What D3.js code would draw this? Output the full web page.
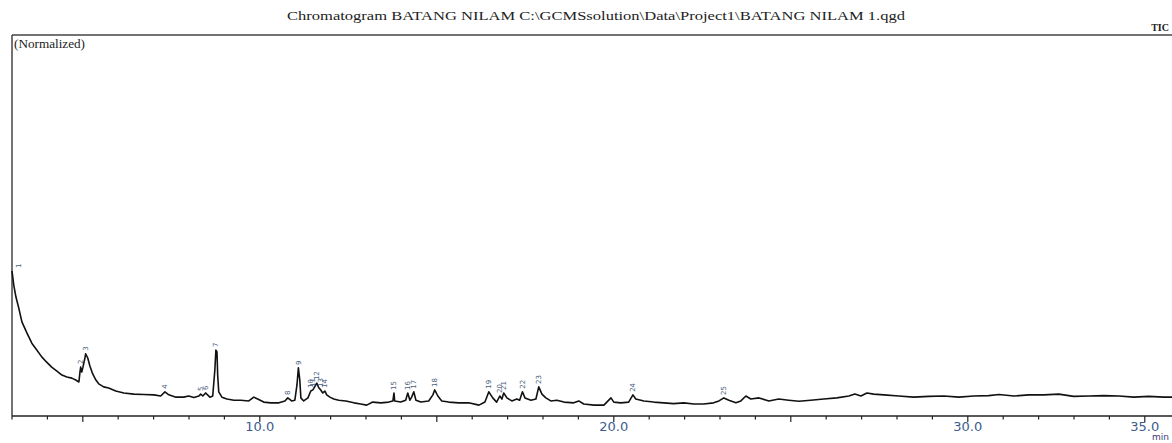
<!DOCTYPE html>
<html>
<head>
<meta charset="utf-8">
<script src="https://cdn.jsdelivr.net/npm/d3@7"></script>
<style>
  html, body { margin: 0; padding: 0; background: #fff; }
  #chart { width: 1172px; height: 443px; overflow: hidden; }
</style>
</head>
<body>
<div id="chart"></div>
<script>
// Retention time (min) and normalized intensity
const times = [
  3.0, 3.05, 3.11, 3.19, 3.28, 3.42, 3.56, 3.70, 3.84, 3.98, 4.12, 4.26, 4.41, 4.55, 4.69, 4.80, 4.89,
  4.92, 4.94, 4.97, 5.0, 5.06, 5.08, 5.14, 5.20, 5.28, 5.37, 5.45, 5.59, 5.73, 5.93, 6.16, 6.44, 6.72,
  7.01, 7.2, 7.32, 7.43, 7.63, 7.85, 7.99, 8.14, 8.28, 8.33, 8.39, 8.47, 8.59, 8.67, 8.73, 8.76, 8.79,
  8.81, 8.84, 8.93, 9.07, 9.27, 9.46, 9.69, 9.83, 9.94, 10.11, 10.31, 10.54, 10.71, 10.79, 10.90, 10.99,
  11.05, 11.09, 11.13, 11.16, 11.24, 11.36, 11.44, 11.50, 11.55, 11.61, 11.67, 11.72, 11.78, 11.84,
  11.89, 11.98, 12.09, 12.23, 12.43, 12.66, 12.85, 13.02, 13.19, 13.42, 13.64, 13.76, 13.79, 13.81,
  13.98, 14.12, 14.18, 14.24, 14.29, 14.35, 14.41, 14.55, 14.77, 14.89, 14.94, 15.03, 15.14, 15.34,
  15.62, 15.90, 16.19, 16.36, 16.47, 16.58, 16.69, 16.78, 16.84, 16.89, 16.98, 17.12, 17.26, 17.34,
  17.42, 17.49, 17.66, 17.80, 17.88, 17.97, 18.08, 18.22, 18.39, 18.59, 18.87, 19.01, 19.15, 19.44,
  19.72, 19.92, 20.0, 20.20, 20.42, 20.54, 20.62, 20.85, 21.13, 21.41, 21.69, 21.98, 22.26, 22.54,
  22.82, 22.97, 23.11, 23.25, 23.45, 23.59, 23.73, 23.87, 24.10, 24.38, 24.66, 24.94, 25.23, 25.56,
  25.93, 26.30, 26.64, 26.81, 26.98, 27.15, 27.34, 27.63, 28.05, 28.47, 28.90, 29.32, 29.75, 30.17,
  30.59, 30.88, 31.30, 31.72, 32.15, 32.57, 32.99, 33.42, 33.84, 34.27, 34.69, 35.11, 35.54, 35.82
];
const intensity = [
  37.9, 34.2, 31.1, 28.2, 24.5, 21.6, 18.9, 17.1, 15.3, 13.9, 12.6, 11.6, 10.5, 10.0, 9.7, 9.2, 8.7,
  11.3, 12.6, 11.3, 12.4, 15.0, 16.1, 15.0, 12.9, 10.8, 9.2, 8.2, 7.4, 7.1, 6.3, 5.8, 5.5, 5.4,
  5.3, 5.0, 6.1, 5.3, 4.7, 4.7, 5.0, 4.6, 5.0, 5.5, 5.0, 5.8, 4.7, 5.0, 11.8, 17.1, 16.6,
  10.5, 6.1, 4.7, 4.2, 3.9, 3.9, 3.7, 4.7, 4.2, 3.4, 3.2, 3.2, 3.7, 4.5, 3.7, 3.9,
  7.9, 12.4, 9.2, 4.5, 3.7, 4.5, 6.3, 6.6, 7.4, 8.4, 7.1, 6.6, 5.8, 6.3,
  5.3, 4.7, 4.2, 3.9, 3.7, 3.2, 2.9, 2.6, 3.4, 3.2, 3.4, 3.7, 5.8, 3.7,
  3.4, 3.9, 5.8, 3.9, 4.7, 6.1, 3.9, 3.4, 3.7, 5.3, 6.6, 5.0, 3.7, 3.4,
  3.2, 3.2, 2.6, 3.4, 6.1, 4.5, 3.4, 5.0, 4.2, 5.8, 4.5, 3.7, 4.2, 3.9,
  6.1, 4.5, 3.9, 4.2, 7.4, 5.5, 4.5, 3.7, 3.9, 3.4, 3.2, 3.7, 2.9, 2.6,
  2.6, 4.5, 3.4, 3.2, 3.4, 5.3, 4.2, 3.7, 3.4, 3.2, 3.0, 3.2, 2.9, 2.9,
  3.2, 3.7, 4.5, 3.9, 3.2, 3.7, 5.0, 4.2, 4.5, 3.7, 4.2, 3.9, 3.6, 3.9,
  4.2, 4.5, 5.0, 5.5, 5.0, 5.8, 5.5, 5.3, 5.0, 4.7, 4.9, 5.0, 4.7, 5.0,
  5.1, 5.4, 5.0, 5.3, 5.3, 5.5, 4.9, 5.0, 5.1, 5.0, 4.7, 4.9, 4.7, 4.7
];

// Integrated peaks
const peakNumbers = [1, 2, 3, 4, 5, 6, 7, 8, 9, 10, 11, 12, 13, 14, 15, 16, 17, 18, 19, 20, 21, 22, 23, 24, 25];
const peakTimes = [
  3.0, 4.94, 5.08, 7.32, 8.33, 8.47, 8.76, 10.79, 11.09, 11.44, 11.50, 11.61, 11.72, 11.84,
  13.79, 14.18, 14.35, 14.94, 16.47, 16.78, 16.89, 17.42, 17.88, 20.54, 23.11
];

// Axis
const labelledTicks = [10, 20, 30, 35];
const tickLabels = ["10.0", "20.0", "30.0", "35.0"];

const title = "Chromatogram BATANG NILAM C:\\GCMSsolution\\Data\\Project1\\BATANG NILAM 1.qgd";

const W = 1172, H = 443;
const margin = { top: 35, left: 12, bottom: 27 };
const plotBottom = H - margin.bottom;

const svg = d3.select("#chart").append("svg")
  .attr("width", W)
  .attr("height", H);

const x = d3.scaleLinear().domain([3, 36]).range([margin.left, margin.left + 33 * 35.4]);
const y = d3.scaleLinear().domain([0, 100]).range([plotBottom - 1, margin.top]);

const serif = "'Liberation Serif', 'DejaVu Serif', serif";
const tickColor = "#3d5c8e";

// Title
svg.append("text")
  .attr("x", 596).attr("y", 20)
  .attr("text-anchor", "middle")
  .attr("font-family", serif)
  .attr("font-size", 12)
  .attr("fill", "#222")
  .attr("textLength", 618)
  .attr("lengthAdjust", "spacingAndGlyphs")
  .text(title);

svg.append("text")
  .attr("x", 1169).attr("y", 31)
  .attr("text-anchor", "end")
  .attr("font-family", serif)
  .attr("font-size", 10)
  .attr("font-weight", "bold")
  .attr("fill", "#222")
  .text("TIC");

// Frame
const frame = svg.append("g").attr("stroke", "#444").attr("fill", "none");
frame.append("line")
  .attr("x1", margin.left).attr("x2", W)
  .attr("y1", margin.top).attr("y2", margin.top)
  .attr("stroke-width", 1.5);
frame.append("line")
  .attr("x1", margin.left).attr("x2", margin.left)
  .attr("y1", margin.top).attr("y2", plotBottom)
  .attr("stroke-width", 1.5);

svg.append("text")
  .attr("x", 14).attr("y", 48)
  .attr("font-family", serif)
  .attr("font-size", 12)
  .attr("fill", "#222")
  .attr("textLength", 71)
  .attr("lengthAdjust", "spacingAndGlyphs")
  .text("(Normalized)");

// X axis: minor ticks each minute, longer ones every 5 min
const axis = svg.append("g").attr("transform", `translate(0,${plotBottom})`);
axis.append("line")
  .attr("x1", margin.left).attr("x2", W)
  .attr("stroke", "#222").attr("stroke-width", 1.5);

axis.selectAll(".tick")
  .data(d3.range(3, 37))
  .enter()
  .append("line")
  .attr("class", "tick")
  .attr("x1", d => x(d)).attr("x2", d => x(d))
  .attr("y1", 0)
  .attr("y2", d => d % 5 === 0 ? 6 : 3.5)
  .attr("stroke", "#222")
  .attr("stroke-width", 1.2);

axis.selectAll(".tick-label")
  .data(labelledTicks)
  .enter()
  .append("text")
  .attr("class", "tick-label")
  .attr("x", d => x(d))
  .attr("y", 15)
  .attr("text-anchor", "middle")
  .attr("font-family", "'DejaVu Sans', Verdana, sans-serif")
  .attr("font-size", 13)
  .attr("fill", tickColor)
  .text((d, i) => tickLabels[i]);

svg.append("text")
  .attr("x", 1152).attr("y", 440)
  .attr("font-family", "'DejaVu Sans', sans-serif")
  .attr("font-size", 9)
  .attr("fill", "#3a3a7a")
  .text("min");

// Trace
const trace = times.map((t, i) => [t, intensity[i]]);
const line = d3.line().x(d => x(d[0])).y(d => y(d[1]));

svg.append("path")
  .datum(trace)
  .attr("d", line)
  .attr("fill", "none")
  .attr("stroke", "#111")
  .attr("stroke-width", 1.6)
  .attr("stroke-linejoin", "round");

// Peak numbers, written upright above each apex
const apex = t => {
  const near = trace.filter(d => Math.abs(d[0] - t) <= 0.03);
  return d3.max(near, d => d[1]) ?? intensity[d3.bisectLeft(times, t)];
};

svg.selectAll(".peak-label")
  .data(peakTimes)
  .enter()
  .append("text")
  .attr("class", "peak-label")
  .attr("transform", (d, i) => {
    const px = i === 0 ? x(d) + 7 : x(d);
    return `translate(${px},${y(apex(d)) - 3}) rotate(-90)`;
  })
  .attr("dy", "0.35em")
  .attr("font-family", "'DejaVu Sans', sans-serif")
  .attr("font-size", 7)
  .attr("fill", "#4b5d80")
  .text((d, i) => peakNumbers[i]);
</script>
</body>
</html>
